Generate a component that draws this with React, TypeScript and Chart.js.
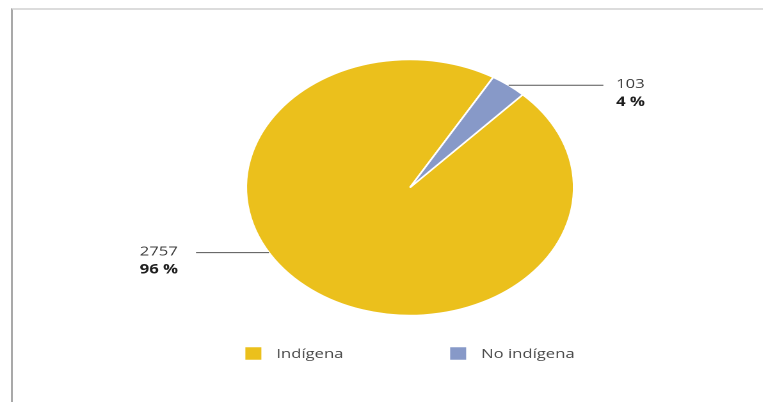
import React, { useEffect, useRef } from "react";
import { Chart, registerables } from "chart.js";

Chart.register(...registerables);

// ---- data ----
const categories: string[] = ["Indígena", "No indígena"];
const values: number[] = [2757, 103];
const colors: string[] = ["#EBC01C", "#8799C8"];

// ---- styling ----
const STRETCH = 1.28;
const CW = 596;
const CH = 402;
const FONT = '"Open Sans", "DejaVu Sans", sans-serif';
const labelStyle = [
  { frac: 0.5645, lineLen: 57 },
  { frac: 0.5, lineLen: 74 },
];

const labelPlugin = {
  id: "pieLabels",
  afterDraw(chart: any) {
    const ctx: CanvasRenderingContext2D = chart.ctx;
    const meta = chart.getDatasetMeta(0);
    const data: number[] = chart.data.datasets[0].data;
    const total = data.reduce((a, b) => a + b, 0);
    ctx.save();
    let cx = 0;
    let cy = 0;
    let r = 0;
    meta.data.forEach((arc: any, i: number) => {
      const p = arc.getProps(["x", "y", "startAngle", "endAngle", "outerRadius"], true);
      cx = p.x;
      cy = p.y;
      r = p.outerRadius;
      const st = labelStyle[i];
      const a = p.startAngle + (p.endAngle - p.startAngle) * st.frac;
      const px = p.x + Math.cos(a) * p.outerRadius;
      const py = p.y + Math.sin(a) * p.outerRadius;
      const side = Math.cos(a) >= 0 ? 1 : -1;
      const ex = px + side * st.lineLen;
      ctx.strokeStyle = "#555";
      ctx.lineWidth = 1;
      ctx.beginPath();
      ctx.moveTo(px, py);
      ctx.lineTo(ex, py);
      ctx.stroke();
      const l1 = String(data[i]);
      const l2 = Math.round((data[i] / total) * 100) + " %";
      ctx.textBaseline = "middle";
      ctx.textAlign = "left";
      ctx.font = `500 13px ${FONT}`;
      const w1 = ctx.measureText(l1).width;
      ctx.font = `bold 13px ${FONT}`;
      const w2 = ctx.measureText(l2).width;
      const tx = side > 0 ? ex + 10 : ex - 14 - Math.max(w1, w2);
      ctx.font = `500 13px ${FONT}`;
      ctx.fillStyle = "#3a3a3a";
      ctx.fillText(l1, tx, py - 1);
      ctx.font = `bold 13px ${FONT}`;
      ctx.fillStyle = "#1e1e1e";
      ctx.fillText(l2, tx, py + 17);
    });

    // legend
    const labels: string[] = chart.data.labels;
    const bg: string[] = chart.data.datasets[0].backgroundColor;
    const box = 12.5;
    const gap = 11.7;
    const itemGap = 83.4;
    ctx.font = `500 13px ${FONT}`;
    const widths = labels.map((l) => ctx.measureText(l).width);
    const total_w =
      widths.reduce((a, w) => a + box + gap + w, 0) + itemGap * (labels.length - 1);
    let x = cx - total_w / 2;
    const ly = cy + r + 38;
    labels.forEach((l, i) => {
      ctx.fillStyle = bg[i];
      ctx.fillRect(x, ly - box / 2, box, box);
      ctx.fillStyle = "#4a4a4a";
      ctx.textAlign = "left";
      ctx.textBaseline = "middle";
      ctx.fillText(l, x + box + gap, ly + 1);
      x += box + gap + widths[i] + itemGap;
    });
    ctx.restore();
  },
};

export default function App() {
  const ref = useRef<HTMLCanvasElement | null>(null);
  useEffect(() => {
    if (!ref.current) return;
    const chart = new Chart(ref.current, {
      type: "pie",
      data: {
        labels: categories,
        datasets: [
          {
            data: values,
            backgroundColor: colors,
            borderColor: "#ffffff",
            borderWidth: 1.5,
          },
        ],
      },
      options: {
        responsive: false,
        animation: false,
        devicePixelRatio: 2,
        rotation: 43.5,
        radius: 128,
        layout: { padding: { left: 100, right: 55.4, top: 50, bottom: 77 } },
        plugins: {
          legend: { display: false },
          tooltip: { enabled: false },
          title: { display: false },
        },
      },
      plugins: [labelPlugin],
    } as any);
    return () => chart.destroy();
  }, []);

  return (
    <div style={{ position: "absolute", left: 0, top: 0, width: 763, height: 402, overflow: "hidden", background: "#fff" }}>
      <div
        style={{
          position: "absolute",
          left: 11,
          top: 8,
          width: 752,
          height: 394,
          boxSizing: "border-box",
          borderTop: "2px solid #dcdcdc",
          borderLeft: "2px solid #a9a9a9",
        }}
      />
      <div
        style={{
          position: "absolute",
          left: 0,
          top: 0,
          width: CW,
          height: CH,
          transform: `scaleX(${STRETCH})`,
          transformOrigin: "0 0",
        }}
      >
        <canvas ref={ref} width={CW} height={CH} />
      </div>
    </div>
  );
}
